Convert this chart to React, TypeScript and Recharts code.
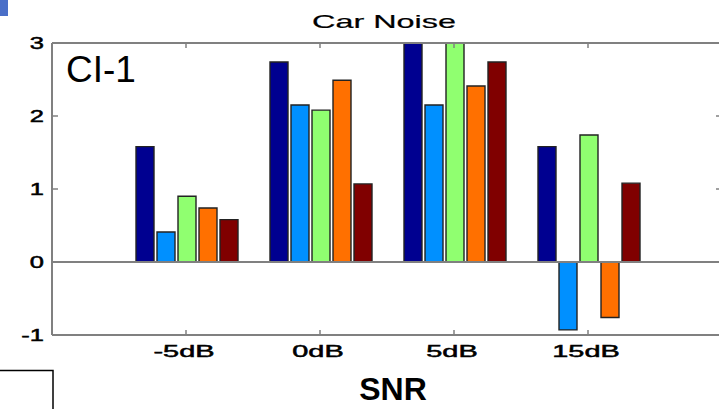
import React from "react";
import { BarChart, Bar, XAxis, YAxis, ReferenceLine } from "recharts";

const snrLabels = ["-5dB", "0dB", "5dB", "15dB"];
const seriesA = [1.58, 2.74, 3.3, 1.58];
const seriesB = [0.41, 2.15, 2.15, -0.93];
const seriesC = [0.9, 2.08, 3.3, 1.74];
const seriesD = [0.74, 2.49, 2.41, -0.76];
const seriesE = [0.58, 1.07, 2.74, 1.08];
const yTicks = [-1, 0, 1, 2, 3];

const colors = ["#000090", "#0090ff", "#90ff70", "#ff7000", "#800000"];
const keys = ["a", "b", "c", "d", "e"];

const data = snrLabels.map((snr, i) => ({
  snr,
  a: seriesA[i],
  b: seriesB[i],
  c: seriesC[i],
  d: seriesD[i],
  e: seriesE[i],
}));

const FONT = "Arial, 'Liberation Sans', Helvetica, sans-serif";
const AXIS = "#808080";

// matlab-ish wide glyphs
function Stretch({ x, y, sx, anchor, size, weight = 0.5, children }: any) {
  return (
    <g transform={`translate(${x},${y}) scale(${sx},1)`}>
      <text
        x={0}
        y={0}
        textAnchor={anchor}
        fontSize={size}
        fontFamily={FONT}
        fill="#000"
        stroke="#000"
        strokeWidth={weight}
      >
        {children}
      </text>
    </g>
  );
}

function BottomTick({ x, y, payload }: any) {
  // y comes in below the axis line (tickSize 0 + tickMargin)
  const axisY = y - 4;
  return (
    <g>
      <line x1={x} x2={x} y1={axisY} y2={axisY - 5} stroke={AXIS} strokeWidth={1.5} />
      <Stretch x={x - 2} y={axisY + 22} sx={1.7} anchor="middle" size={17}>
        {payload.value}
      </Stretch>
    </g>
  );
}

function TopTick({ x, y }: any) {
  const axisY = y + 4;
  return <line x1={x} x2={x} y1={axisY} y2={axisY + 5} stroke={AXIS} strokeWidth={1.5} />;
}

function LeftTick({ x, y, payload }: any) {
  const axisX = x + 8;
  return (
    <g>
      <line x1={axisX} x2={axisX + 6} y1={y} y2={y} stroke={AXIS} strokeWidth={1.5} />
      <Stretch x={axisX - 8} y={y + 6} sx={1.5} anchor="end" size={17}>
        {payload.value}
      </Stretch>
    </g>
  );
}

function RightTick({ x, y }: any) {
  const axisX = x - 4;
  return <line x1={axisX} x2={axisX - 6} y1={y} y2={y} stroke={AXIS} strokeWidth={1.5} />;
}

export default function App() {
  return (
    <div
      style={{
        position: "absolute",
        left: 0,
        top: 0,
        width: 719,
        height: 409,
        overflow: "hidden",
        background: "#fff",
      }}
    >
      <BarChart
        width={740}
        height={409}
        data={data}
        margin={{ top: 0, right: 0, bottom: 0, left: 0 }}
        barCategoryGap={17}
        barGap={3}
      >
        <XAxis
          xAxisId="bottom"
          dataKey="snr"
          height={74}
          padding={{ left: 67, right: 67 }}
          axisLine={{ stroke: AXIS, strokeWidth: 2 }}
          tickLine={false}
          tickSize={0}
          tickMargin={4}
          tick={<BottomTick />}
          interval={0}
        />
        <XAxis
          xAxisId="top"
          dataKey="snr"
          orientation="top"
          height={43}
          padding={{ left: 67, right: 67 }}
          axisLine={{ stroke: AXIS, strokeWidth: 2 }}
          tickLine={false}
          tickSize={0}
          tickMargin={4}
          tick={<TopTick />}
          interval={0}
        />
        <YAxis
          yAxisId="left"
          width={52}
          domain={[-1, 3]}
          ticks={yTicks}
          allowDataOverflow
          axisLine={{ stroke: AXIS, strokeWidth: 2 }}
          tickLine={false}
          tickSize={0}
          tickMargin={8}
          tick={<LeftTick />}
        />
        <YAxis
          yAxisId="right"
          orientation="right"
          width={18}
          domain={[-1, 3]}
          ticks={yTicks}
          allowDataOverflow
          axisLine={{ stroke: AXIS, strokeWidth: 2 }}
          tickLine={false}
          tickSize={0}
          tickMargin={4}
          tick={<RightTick />}
        />
        <ReferenceLine yAxisId="left" xAxisId="bottom" y={0} stroke={AXIS} strokeWidth={2} />
        {keys.map((k, i) => (
          <Bar
            key={k}
            dataKey={k}
            xAxisId="bottom"
            yAxisId="left"
            fill={colors[i]}
            stroke="#222"
            strokeWidth={1.4}
            isAnimationActive={false}
          />
        ))}
      </BarChart>

      <svg
        width={719}
        height={409}
        style={{ position: "absolute", left: 0, top: 0, pointerEvents: "none" }}
      >
        <rect x={0} y={0} width={8} height={16} fill="#4a6fc8" />
        <Stretch x={384} y={28} sx={1.8} anchor="middle" size={18} weight={0.2}>
          Car Noise
        </Stretch>
        <text x={66} y={82} fontSize={37} fontFamily={FONT} fill="#000">
          CI-1
        </text>
        <text
          x={393}
          y={400}
          textAnchor="middle"
          fontSize={32}
          fontWeight="bold"
          fontFamily={FONT}
          fill="#000"
        >
          SNR
        </text>
        <rect x={-2} y={370.5} width={55} height={45} fill="none" stroke="#000" strokeWidth={1.5} />
      </svg>
    </div>
  );
}
